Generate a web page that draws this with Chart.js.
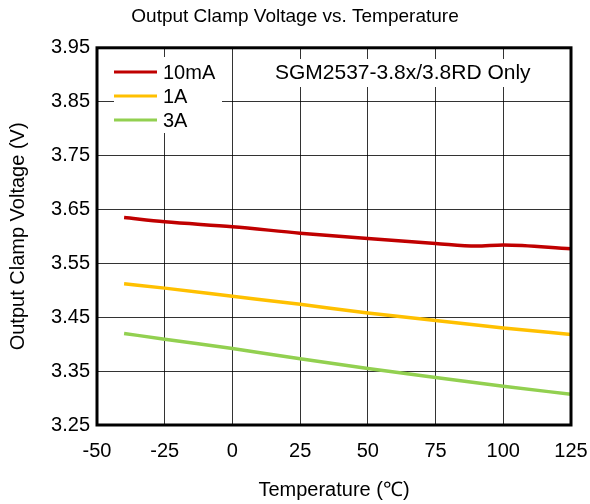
<!DOCTYPE html>
<html>
<head>
<meta charset="utf-8">
<script src="https://cdn.jsdelivr.net/npm/chart.js@4"></script>
<style>
  html, body { margin: 0; padding: 0; background: #fff; }
  #wrap { width: 590px; height: 504px; }
</style>
</head>
<body>
<div id="wrap"><canvas id="chart" width="590" height="504"></canvas></div>
<script>
const tempsRed = [-40, -25, 0, 25, 50, 75, 90, 100, 125];
const temps = [-40, -25, 0, 25, 50, 75, 100, 125];
const v10mA = [3.635, 3.627, 3.618, 3.606, 3.596, 3.587, 3.582, 3.584, 3.577];
const v1A = [3.512, 3.504, 3.489, 3.474, 3.458, 3.444, 3.430, 3.418];
const v3A = [3.420, 3.409, 3.392, 3.373, 3.355, 3.338, 3.322, 3.307];
const seriesNames = ["10mA", "1A", "3A"];
const seriesColors = ["#C00000", "#FFC000", "#92D050"];
const noteText = "SGM2537-3.8x/3.8RD Only";

const FONT = "'Liberation Sans', Arial, sans-serif";

function pts(xs, ys) {
  return xs.map((x, i) => ({ x: x, y: ys[i] }));
}

// legend box, note text and frame drawn on top of the plot
const extras = {
  id: "extras",
  afterDatasetsDraw(chart) {
    const ctx = chart.ctx;
    const a = chart.chartArea;
    ctx.save();
    ctx.fillStyle = "#fff";
    ctx.fillRect(114, 57, 108, 76);
    ctx.fillRect(272, 59, 264, 28);

    ctx.font = "20px " + FONT;
    ctx.textBaseline = "middle";
    seriesNames.forEach((name, i) => {
      const y = 72 + i * 24;
      ctx.strokeStyle = seriesColors[i];
      ctx.lineWidth = 3;
      ctx.beginPath();
      ctx.moveTo(114, y);
      ctx.lineTo(157, y);
      ctx.stroke();
      ctx.fillStyle = "#000";
      ctx.textAlign = "left";
      ctx.fillText(name, 163, y + 1);
    });

    ctx.font = "21px " + FONT;
    ctx.fillStyle = "#000";
    ctx.textAlign = "left";
    ctx.fillText(noteText, 275, 73);

    ctx.strokeStyle = "#000";
    ctx.lineWidth = 3;
    ctx.strokeRect(a.left, a.top, a.right - a.left, a.bottom - a.top);
    ctx.restore();
  },
};

new Chart(document.getElementById("chart"), {
  type: "line",
  data: {
    datasets: [
      { label: seriesNames[0], data: pts(tempsRed, v10mA), borderColor: seriesColors[0] },
      { label: seriesNames[1], data: pts(temps, v1A), borderColor: seriesColors[1] },
      { label: seriesNames[2], data: pts(temps, v3A), borderColor: seriesColors[2] },
    ],
  },
  options: {
    responsive: false,
    animation: false,
    layout: { padding: 0 },
    elements: {
      point: { radius: 0 },
      line: { borderWidth: 3.5, cubicInterpolationMode: "monotone", fill: false },
    },
    plugins: {
      legend: { display: false },
      tooltip: { enabled: false },
      title: {
        display: true,
        text: "Output Clamp Voltage vs. Temperature",
        color: "#000",
        font: { family: FONT, size: 19, weight: "normal" },
        padding: { top: 5, bottom: 20 },
      },
    },
    scales: {
      x: {
        type: "linear",
        min: -50,
        max: 125,
        ticks: { stepSize: 25, color: "#000", padding: 14, font: { family: FONT, size: 20 } },
        grid: { color: "rgba(0,0,0,0.8)", lineWidth: 1, drawTicks: false },
        border: { display: false },
        title: {
          display: true,
          text: "Temperature (℃)",
          color: "#000",
          font: { family: FONT, size: 20 },
          padding: { top: 0, bottom: 2 },
        },
        afterFit(scale) {
          scale.height = 79;
          scale.paddingRight = 19;
          scale.paddingLeft = 0;
        },
      },
      y: {
        min: 3.25,
        max: 3.95,
        ticks: {
          stepSize: 0.1,
          color: "#000",
          padding: 7,
          font: { family: FONT, size: 20 },
          callback: (v) => v.toFixed(2),
        },
        grid: { color: "rgba(0,0,0,0.8)", lineWidth: 1, drawTicks: false },
        border: { display: false },
        title: {
          display: true,
          text: "Output Clamp Voltage (V)",
          color: "#000",
          font: { family: FONT, size: 20 },
          padding: { top: 6, bottom: 0 },
        },
        afterFit(scale) { scale.width = 97; },
      },
    },
  },
  plugins: [extras],
});
</script>
</body>
</html>
